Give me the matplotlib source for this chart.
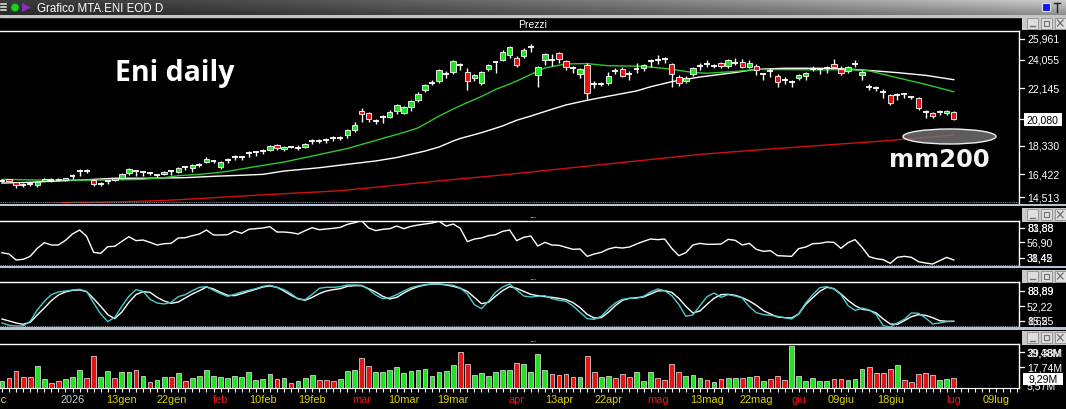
import numpy as np
import pandas as pd
import matplotlib
matplotlib.use("Agg")
import matplotlib.pyplot as plt
from matplotlib.patches import Rectangle, Ellipse, Polygon, Circle

plt.rcParams['font.family'] = ['Liberation Sans', 'DejaVu Sans']

W, H = 1066, 410

# ---------------- calendar ----------------
holidays = ["2025-12-25", "2025-12-26", "2026-01-01", "2026-04-03", "2026-04-06", "2026-05-01"]
dates = pd.bdate_range("2025-12-16", "2026-07-14")
dates = dates[~dates.isin(pd.to_datetime(holidays))]

tick_dates = ["2026-01-02", "2026-01-13", "2026-01-22", "2026-02-02", "2026-02-10", "2026-02-19",
              "2026-03-02", "2026-03-10", "2026-03-19", "2026-04-01", "2026-04-13", "2026-04-22",
              "2026-05-04", "2026-05-13", "2026-05-22", "2026-06-01", "2026-06-09", "2026-06-18",
              "2026-07-01", "2026-07-09"]
tick_texts = ["2026", "13gen", "22gen", "feb", "10feb", "19feb", "mar", "10mar", "19mar", "apr",
              "13apr", "22apr", "mag", "13mag", "22mag", "giu", "09giu", "18giu", "lug", "09lug"]
tick_kind = ["year", "day", "day", "month", "day", "day", "month", "day", "day", "month",
             "day", "day", "month", "day", "day", "month", "day", "day", "month", "day"]

# ---------------- prices (EUR) ----------------
opens = [15.99,16.09,15.89,15.71,15.75,15.69,15.99,16.04,16.02,16.04,
         16.33,16.64,16.64,16.02,15.79,15.97,16.04,16.17,16.49,16.62,
         16.55,16.51,16.35,16.42,16.64,16.55,16.89,16.86,17.06,17.26,
         17.29,16.89,17.35,17.55,17.55,17.84,17.89,17.97,18.06,18.37,
         18.10,18.26,18.19,18.22,18.64,18.64,18.72,18.82,18.86,19.02,
         19.37,20.63,20.50,19.99,20.24,20.26,20.64,20.52,20.88,21.39,
         22.05,22.52,22.61,23.08,23.21,23.68,23.21,22.81,22.52,23.41,
         23.90,24.05,24.36,24.14,24.30,24.90,23.01,24.05,24.01,24.48,
         23.94,23.48,23.12,23.72,22.45,22.41,22.50,23.30,23.41,23.12,
         23.41,23.48,23.96,24.01,24.08,23.74,22.92,22.63,23.08,23.65,
         23.74,23.63,23.81,23.65,23.85,23.88,23.58,23.63,23.08,23.30,
         22.95,22.68,22.57,22.81,22.95,23.45,23.41,23.52,23.76,23.45,
         23.30,23.76,23.03,22.23,22.15,21.90,21.68,21.70,21.75,21.57,
         21.48,20.59,20.50,20.55,20.50,20.57]
highs = [16.11,16.12,15.90,15.84,15.84,15.99,16.15,16.15,16.16,16.20,
         16.46,16.77,16.77,16.11,15.93,16.06,16.19,16.49,16.82,16.66,
         16.59,16.59,16.44,16.66,16.73,16.91,16.99,17.08,17.17,17.55,
         17.39,17.31,17.49,17.71,17.66,17.95,17.97,18.08,18.37,18.42,
         18.30,18.32,18.37,18.50,18.75,18.77,18.86,18.95,18.95,19.42,
         19.90,20.83,20.59,20.12,20.35,20.70,21.08,20.97,21.35,21.88,
         22.41,22.70,23.45,23.30,24.05,23.85,23.48,23.12,23.30,23.74,
         23.96,24.68,24.96,24.30,24.81,25.08,23.63,24.50,24.41,24.56,
         24.01,23.63,23.48,23.81,22.63,22.57,23.21,23.48,23.54,23.30,
         23.81,23.78,24.08,24.36,24.25,23.81,23.01,22.95,23.56,23.83,
         24.01,23.74,23.88,24.08,24.18,24.08,24.01,23.74,23.12,23.48,
         23.08,22.90,22.68,23.12,23.25,23.63,23.52,23.63,24.08,23.63,
         23.63,24.01,23.34,22.45,22.30,22.08,21.79,21.81,21.83,21.63,
         21.57,20.68,20.57,20.68,20.68,20.63]
lows = [15.89,15.95,15.53,15.57,15.66,15.59,15.95,15.93,15.99,16.00,
        16.11,16.29,16.49,15.62,15.62,15.79,16.00,16.11,16.37,16.29,
        16.31,16.37,16.24,16.35,16.37,16.49,16.73,16.59,16.93,17.19,
        17.15,16.77,17.15,17.39,17.39,17.55,17.62,17.75,17.97,18.06,
        17.97,18.17,18.02,18.15,18.46,18.50,18.50,18.64,18.68,18.86,
        19.26,19.92,19.92,19.75,19.84,20.15,20.46,20.42,20.64,21.25,
        21.92,22.35,22.52,22.85,23.12,23.34,22.05,22.63,22.37,23.30,
        23.19,23.96,24.18,23.56,24.18,24.58,22.25,23.68,23.65,23.85,
        23.34,23.19,22.85,21.45,22.15,22.28,22.37,23.08,22.90,22.72,
        23.17,23.30,23.56,23.74,23.81,22.23,22.30,22.52,22.97,23.38,
        23.58,23.48,23.52,23.48,23.68,23.48,23.48,23.01,22.68,22.90,
        22.25,22.45,22.25,22.68,22.72,23.30,23.08,23.19,23.52,23.03,
        23.15,23.58,22.68,22.01,21.97,21.52,21.03,21.35,21.48,21.45,
        20.72,20.19,20.19,20.37,20.37,20.02]
closes = [15.99,15.97,15.73,15.71,15.75,15.93,16.11,16.04,16.13,16.17,
          16.33,16.64,16.64,15.75,15.79,15.97,16.15,16.42,16.75,16.62,
          16.55,16.51,16.35,16.57,16.64,16.84,16.89,17.01,17.06,17.44,
          17.29,17.24,17.35,17.55,17.55,17.84,17.89,17.97,18.30,18.15,
          18.24,18.26,18.19,18.44,18.64,18.64,18.72,18.82,18.86,19.35,
          19.68,20.42,20.12,19.99,20.24,20.57,21.03,20.88,21.28,21.79,
          22.37,22.52,23.34,23.08,23.96,23.68,22.61,23.01,23.23,23.68,
          23.90,24.54,24.90,23.72,24.70,24.90,23.56,24.41,24.01,24.08,
          23.58,23.48,23.41,21.81,22.45,22.41,22.97,23.30,22.99,23.12,
          23.41,23.68,23.96,24.01,24.08,23.08,22.52,22.81,23.48,23.65,
          23.74,23.63,23.61,24.01,23.85,23.58,23.81,23.35,23.08,23.30,
          22.59,22.68,22.57,23.03,23.17,23.45,23.41,23.52,23.58,23.19,
          23.56,23.76,23.25,22.23,22.15,21.90,21.19,21.70,21.75,21.57,
          20.85,20.59,20.28,20.55,20.63,20.08]

# moving averages (vertices)
ma_fast_idx = [0,5,10,15,20,23,25,28,30,32,34,36,40,45,49,54,57,59,62,64,66,68,70,72,73,75,77,80,83,86,
               90,93,95,98,100,104,107,111,116,120,123,127,131,135]
ma_fast_val = [16.09,16.04,16.04,16.04,16.09,16.20,16.33,16.42,16.51,16.62,16.78,16.94,17.24,17.74,18.14,
               18.81,19.21,19.51,20.30,20.77,21.20,21.60,22.07,22.43,22.63,23.07,23.50,23.77,23.79,23.65,
               23.62,23.52,23.41,23.20,23.15,23.27,23.40,23.39,23.37,23.39,23.31,22.85,22.41,21.92]
ma_slow_idx = [0,4,8,12,16,20,26,30,34,37,40,45,49,53,56,60,62,64,65,68,71,73,75,78,80,83,86,90,92,95,
               99,104,107,111,116,120,124,127,131,135]
ma_slow_val = [15.84,15.89,15.98,16.06,16.16,16.16,16.20,16.29,16.36,16.42,16.64,16.86,17.09,17.31,17.54,
               17.97,18.24,18.64,18.81,19.19,19.64,20.02,20.30,20.75,21.04,21.35,21.62,21.97,22.25,22.59,
               22.90,23.20,23.41,23.48,23.48,23.43,23.30,23.19,23.01,22.72]
ma200_idx = [0,8,9,16,23,28,33,36,48,63,71,80,89,99,107,115,125,135]
ma200_val = [14.38,14.50,14.55,14.58,14.68,14.81,14.95,15.03,15.33,16.03,16.38,16.82,17.26,17.75,18.04,
             18.31,18.64,19.04]

# ---------------- oscillators ----------------
rsi = [37.3,34.8,23.5,24.8,30.4,45.5,56.2,51.8,51.8,60.6,
       72.6,80.1,68.2,37.9,36.1,48.7,49.3,58.7,67.5,60.0,
       61.2,56.8,51.8,54.3,54.9,65.0,65.6,69.4,72.6,80.1,
       70.7,70.7,71.3,78.2,73.8,81.4,82.6,83.9,86.4,76.3,
       76.3,75.1,72.6,78.9,84.5,80.7,82.0,83.3,85.1,90.8,
       93.9,97.7,83.9,78.9,81.4,82.6,87.6,82.6,87.0,89.5,
       91.4,93.3,96.5,87.6,91.4,83.3,58.1,63.1,65.0,69.4,
       71.3,77.6,80.1,60.0,66.3,68.8,49.9,56.8,51.8,51.2,
       47.4,43.6,44.2,30.4,34.8,37.9,44.2,47.4,46.1,48.0,
       53.7,58.7,63.1,61.9,63.1,45.5,31.7,37.3,51.8,54.9,
       53.1,53.1,53.7,62.5,60.6,51.8,54.9,43.6,39.8,41.1,
       31.7,31.0,30.4,44.9,48.0,54.3,54.9,57.5,56.8,45.5,
       56.2,61.9,47.4,29.8,26.0,24.1,17.2,28.5,30.4,28.5,
       20.3,17.8,15.9,22.2,28.5,23.5]
stoch_d = [17.9,13.5,9.0,6.0,10.5,26.9,42.5,58.9,71.6,78.3,
           82.1,82.8,79.1,63.4,46.3,27.6,18.7,33.6,55.2,72.4,
           79.1,77.6,66.4,58.2,53.0,55.9,64.9,73.9,81.3,89.5,
           85.0,77.6,70.9,70.1,74.6,79.8,84.3,89.5,91.8,88.8,
           80.6,70.9,63.4,59.7,66.4,74.6,80.6,83.6,85.8,91.0,
           92.5,92.5,85.8,78.3,68.6,62.7,66.4,76.1,84.3,90.3,
           94.0,96.2,96.2,94.0,91.0,86.5,79.8,66.4,52.2,55.2,
           68.6,81.3,90.3,86.5,79.8,73.1,70.1,67.9,66.4,64.2,
           61.2,54.5,43.3,28.4,20.2,20.9,32.8,47.8,59.7,64.2,
           65.7,67.1,73.9,80.6,81.3,77.6,64.2,46.3,31.4,35.8,
           50.7,64.2,72.4,73.1,70.9,65.7,58.2,48.5,36.6,29.1,
           22.4,20.9,20.2,29.1,50.7,65.7,79.8,88.8,85.8,73.9,
           59.7,47.8,39.6,37.3,31.4,17.9,6.7,6.0,14.2,23.2,
           27.6,26.1,20.9,14.2,12.7,12.7]
stoch_k = [9.0,3.8,2.3,2.3,12.7,38.1,57.5,72.4,78.3,80.6,
           82.8,84.3,79.8,53.7,29.1,12.0,21.7,46.3,68.6,83.6,
           79.8,61.9,53.7,51.5,55.2,67.9,72.4,81.3,88.8,90.3,
           82.1,74.6,68.6,73.1,78.3,82.1,85.8,91.0,93.3,88.8,
           83.6,74.6,62.7,61.2,73.1,86.5,88.8,88.8,90.3,94.0,
           94.0,93.3,84.3,71.6,63.4,65.7,72.4,80.6,88.0,91.8,
           94.7,96.2,96.2,94.7,93.3,87.3,73.9,50.0,41.0,57.5,
           77.6,89.5,96.2,82.8,69.4,67.1,68.6,70.1,63.4,59.7,
           57.5,47.0,32.8,18.7,17.2,23.9,40.3,53.7,61.9,64.2,
           64.2,68.6,78.3,85.0,81.3,70.1,50.7,23.9,26.9,47.8,
           67.9,76.1,66.4,72.4,69.4,64.9,45.5,32.1,27.6,26.1,
           23.9,20.9,17.9,29.1,53.7,72.4,88.0,90.3,85.0,72.4,
           47.8,37.3,42.5,38.1,27.6,3.0,0.0,9.0,17.2,31.4,
           30.6,20.2,6.7,9.0,12.0,12.7]

# ---------------- volume (millions) ----------------
volume = [7.1,9.6,15.8,10.2,10.2,21.0,8.4,5.3,7.1,8.4,
          10.2,16.7,9.3,29.7,10.2,15.8,9.3,14.8,14.8,16.7,
          11.1,5.6,7.4,10.2,10.2,13.9,7.1,9.3,11.1,16.7,
          11.1,10.2,9.3,11.1,10.2,14.8,7.4,8.4,13.0,8.4,
          9.3,4.7,6.5,9.3,12.1,7.4,7.4,6.5,8.4,15.8,
          16.7,27.8,20.4,14.8,14.8,16.7,19.5,13.9,15.8,16.7,
          17.6,11.1,14.8,15.8,21.3,33.4,22.3,12.1,13.9,11.1,
          14.8,16.7,16.7,23.2,22.3,14.8,31.5,16.7,13.0,12.1,
          13.0,10.2,10.2,29.7,14.8,10.2,11.1,9.3,13.0,10.2,
          14.8,6.5,14.8,9.3,7.4,22.3,14.8,11.1,12.1,9.3,
          7.4,5.6,8.4,9.3,9.3,9.3,10.2,11.1,6.5,8.4,
          11.1,7.4,39.48,11.1,6.5,9.3,6.5,6.5,8.4,8.4,
          7.4,8.4,17.6,19.5,13.9,13.9,17.6,21.3,7.4,5.6,
          13.0,13.9,12.1,7.4,8.4,9.29]
volume_dir = list("GRRRRGGRRG" "GGRRGGRGGR" "GRGGRGRGGG" "GGGGGGGGGR" "GRGGGRRRGG"
                  "GRRGGGGGGG" "GGGGGRRGGG" "GGGRGGGGRR" "RRGRRGGRRR" "GGGRRRRGGG"
                  "RGRGGRGRGR" "RRGGGGGGRR" "GGGRRRRGRR" "RRRGGR")

# right-axis labels
price_ticks = [25.961, 24.055, 22.145, 18.330, 16.422, 14.513]
last_price = 20.080
rsi_labels = [("83,88", "81,88"), ("56,90",), ("38,45", "31,42")]
stoch_labels = [("88,89", "83,89"), ("52,22",), ("15,55", "8,62")]
vol_labels = [("39,48M", "29,38M"), ("17,74M",)]
last_vol_label = "9,29M"
hidden_vol_label = "5,57M"

# ---------------- drawing ----------------
GREEN = '#22e022'
RED = '#e41414'
O = np.array(opens); Hh = np.array(highs); L = np.array(lows); C = np.array(closes)
n = len(C)
idx = np.arange(n)

fig = plt.figure(figsize=(W / 100, H / 100), dpi=100, facecolor='black')


def axes_px(x0, y0, x1, y1):
    return fig.add_axes([x0 / W, 1 - y1 / H, (x1 - x0) / W, (y1 - y0) / H])


X0_PX, DX_PX, RIGHT_PX = 2.0, 7.05, 1019.0
xlim = (-X0_PX / DX_PX, (RIGHT_PX - X0_PX) / DX_PX)

ax_p = axes_px(0, 32, RIGHT_PX, 204)
ax_r = axes_px(0, 221.7, RIGHT_PX, 266.5)
ax_s = axes_px(0, 283.3, RIGHT_PX, 328)
ax_v = axes_px(0, 345, RIGHT_PX, 389.3)
for ax in (ax_p, ax_r, ax_s, ax_v):
    ax.set_facecolor('black')
    ax.set_xlim(*xlim)
    ax.spines['left'].set_visible(False)
    ax.spines['bottom'].set_visible(False)
    for s in ('top', 'right'):
        ax.spines[s].set_color('white')
        ax.spines[s].set_linewidth(1.0)
    ax.tick_params(left=False, labelleft=False, bottom=False, labelbottom=False,
                   right=False, labelright=False)

ax_p.set_ylim(14.513, 25.961)
ax_r.set_ylim(13.12, 97.66)
ax_s.set_ylim(0, 100)
ax_v.set_ylim(0, 41.06)

# price panel
ax_p.plot(ma200_idx, ma200_val, color='#d01010', lw=1.0, zorder=2)
ax_p.plot(ma_slow_idx, ma_slow_val, color='white', lw=1.0, zorder=2)
ax_p.plot(ma_fast_idx, ma_fast_val, color='#2fc82f', lw=1.0, zorder=2)
ax_p.vlines(idx, L, Hh, color='white', lw=1.0, zorder=3)
up = C > O + 1e-9
dn = C < O - 1e-9
dj = ~(up | dn)
ax_p.bar(idx[up], (C - O)[up], bottom=O[up], width=0.78, color=GREEN,
         edgecolor='white', linewidth=0.6, zorder=4)
ax_p.bar(idx[dn], (O - C)[dn], bottom=C[dn], width=0.78, color=RED,
         edgecolor='white', linewidth=0.6, zorder=4)
ax_p.hlines(C[dj], idx[dj] - 0.42, idx[dj] + 0.42, color='white', lw=1.3, zorder=4)

# RSI
ax_r.plot(idx, rsi, color='white', lw=1.0)
# stochastic
ax_s.plot(idx, stoch_d, color='white', lw=1.0)
ax_s.plot(idx, stoch_k, color='#48cccc', lw=1.0)
# volume
vcols = [GREEN if d == 'G' else RED for d in volume_dir]
ax_v.bar(idx, volume, width=0.68, color=vcols, edgecolor='#f0f0f0', linewidth=0.5)
ax_v.spines['bottom'].set_visible(True)
ax_v.spines['bottom'].set_color('white')

# date axis
kind_color = {'year': '#c8c8c8', 'month': '#e81818', 'day': '#dcd400'}
labels = [''] * len(dates)
lcols = ['white'] * len(dates)
for d, t, k in zip(tick_dates, tick_texts, tick_kind):
    j = dates.get_loc(pd.Timestamp(d))
    labels[j] = t
    lcols[j] = kind_color[k]
ax_v.set_xticks(np.arange(len(dates)))
ax_v.set_xticklabels(labels, fontsize=7.9)
ax_v.tick_params(axis='x', bottom=True, labelbottom=True, direction='out', length=2.6,
                 width=0.8, color='white', pad=1.2)
for tl, c in zip(ax_v.get_xticklabels(), lcols):
    tl.set_color(c)

# ---------------- overlay (pixel coordinates) ----------------
ax_o = fig.add_axes([0, 0, 1, 1])
ax_o.patch.set_alpha(0)
ax_o.axis('off')

# title bar
t = np.linspace(0, 1, 400)
v = np.linspace(1.15, 0.8, 14)
base = 0.20 + 0.50 * t ** 1.4
grad = np.clip(base[None, :, None] * v[:, None, None], 0, 1) * np.ones((1, 1, 3))
ax_o.add_patch(Rectangle((0, 0), W, 17.5, color='#c4c4c4', zorder=0))
ax_o.imshow(grad, extent=(0, W, 15.5, 1.2), aspect='auto', zorder=1, interpolation='bilinear')
for yy in (5, 8, 11):
    ax_o.plot([0.5, 6], [yy, yy], color='#e8e8e8', lw=1.1, zorder=2)
ax_o.add_patch(Circle((15, 8.5), 4.2, fc='#22cc22', ec='#106010', lw=0.6, zorder=2))
ax_o.add_patch(Polygon([(22, 4), (22, 13), (31, 8.5)], closed=True, fc='#8a2fb8', ec='none', zorder=2))
ax_o.text(37, 8.8, "Grafico MTA.ENI EOD D", color='white', fontsize=8.3, va='center', ha='left', zorder=3)
ax_o.add_patch(Rectangle((1042, 4), 8, 8, fc='#1414ff', ec='#e0e0e0', lw=0.8, zorder=2))
ax_o.plot([1053.5, 1059.5], [4, 4], color='#202020', lw=1.0, zorder=2)
ax_o.plot([1056.5, 1056.5], [4, 13], color='#202020', lw=1.0, zorder=2)

# header texts
ax_o.text(533, 24.5, "Prezzi", color='white', fontsize=7.5, ha='center', va='center')
for yy in (217, 279, 341):
    ax_o.text(533, yy, "...", color='#cfcfcf', fontsize=6, ha='center', va='center', weight='bold')


def buttons(ytop):
    ax_o.add_patch(Rectangle((1022, ytop - 1), W - 1022, 13.5, fc='#c9c9c9', ec='none', zorder=1))
    for x0 in (1027, 1041, 1055):
        ax_o.add_patch(Rectangle((x0, ytop), 10.5, 11, fc='#dedede', ec='#8c8c8c', lw=0.6, zorder=2))
    ax_o.plot([1029.5, 1034.5], [ytop + 8.5, ytop + 8.5], color='#707070', lw=1.0, zorder=3)
    ax_o.add_patch(Rectangle((1043.5, ytop + 3), 5.5, 5, fc='none', ec='#707070', lw=0.8, zorder=3))
    ax_o.plot([1057.5, 1063], [ytop + 2.5, ytop + 8.5], color='#707070', lw=0.9, zorder=3)
    ax_o.plot([1057.5, 1063], [ytop + 8.5, ytop + 2.5], color='#707070', lw=0.9, zorder=3)


for yt in (18.5, 210, 271.5, 333):
    buttons(yt)

# panel separators
for yd, yb in ((203.3, 204.6), (265.8, 266.8), (327.4, 328.4)):
    ax_o.plot([0, RIGHT_PX], [yd, yd], color='#8a8a8a', lw=0.8, ls=(0, (1, 1)))
    ax_o.add_patch(Rectangle((0, yb), W, 2.6, fc='#b4c2d6', ec='none'))


def py(val):
    return 32 + (25.961 - val) / (25.961 - 14.513) * 172


TXT = dict(color='white', fontsize=7.6, va='center', ha='left')
# price axis labels
ypos = [40, py(price_ticks[1]), py(price_ticks[2]), py(price_ticks[3]), py(price_ticks[4]), 198.3]
for lab, yy in zip(price_ticks, ypos):
    ax_o.text(1027, yy, f"{lab:.3f}".replace('.', ','), **TXT)
    ax_o.plot([RIGHT_PX, 1024], [yy, yy], color='white', lw=0.9)
yl = py(last_price)
ax_o.plot([RIGHT_PX, 1024], [yl, yl], color='white', lw=0.9)
ax_o.add_patch(Rectangle((1024, yl - 6.3), 37.5, 12.6, fc='white', ec='none', zorder=4))
ax_o.text(1042.5, yl, f"{last_price:.3f}".replace('.', ','), color='black', fontsize=7.6,
          ha='center', va='center', zorder=5)

# oscillator / volume labels
for labs, yy in zip(rsi_labels, (229, 243.3, 258.5)):
    for lab in labs:
        ax_o.text(1027, yy, lab, **TXT)
    ax_o.plot([RIGHT_PX, 1024], [yy, yy], color='white', lw=0.9)
for labs, yy in zip(stoch_labels, (291.7, 307.3, 321.7)):
    for lab in labs:
        ax_o.text(1027, yy, lab, **TXT)
    ax_o.plot([RIGHT_PX, 1024], [yy, yy], color='white', lw=0.9)
for labs, yy in zip(vol_labels, (353.3, 368.3)):
    for lab in labs:
        ax_o.text(1027, yy, lab, **TXT)
    ax_o.plot([RIGHT_PX, 1024], [yy, yy], color='white', lw=0.9)
ax_o.text(1027, 386.7, hidden_vol_label, **TXT)
ax_o.add_patch(Rectangle((1023, 374), 40, 11.5, fc='white', ec='none', zorder=4))
ax_o.text(1043, 379.7, last_vol_label, color='black', fontsize=7.6, ha='center', va='center', zorder=5)

# date label clipped at the left edge
ax_o.text(0, 400.5, "dic", color='#e4dc90', fontsize=7.9, ha='center', va='center')

# annotations
ax_o.add_patch(Ellipse((949.5, 137.5), 93, 15, fc=(0.46, 0.46, 0.46, 0.8), ec='#f0f0f0', lw=1.0, zorder=3))
ax_o.text(115, 80.7, "Eni daily", family=['Open Sans', 'DejaVu Sans'], weight='bold', fontsize=20.5,
          color='white', ha='left', va='baseline')
ax_o.text(889, 167, "mm200", family=['DejaVu Sans'], weight='bold', fontsize=17.5,
          color='#f4f4f4', ha='left', va='baseline')

ax_o.set_xlim(0, W)
ax_o.set_ylim(H, 0)

fig.savefig("out.png", dpi=100, facecolor='black')
